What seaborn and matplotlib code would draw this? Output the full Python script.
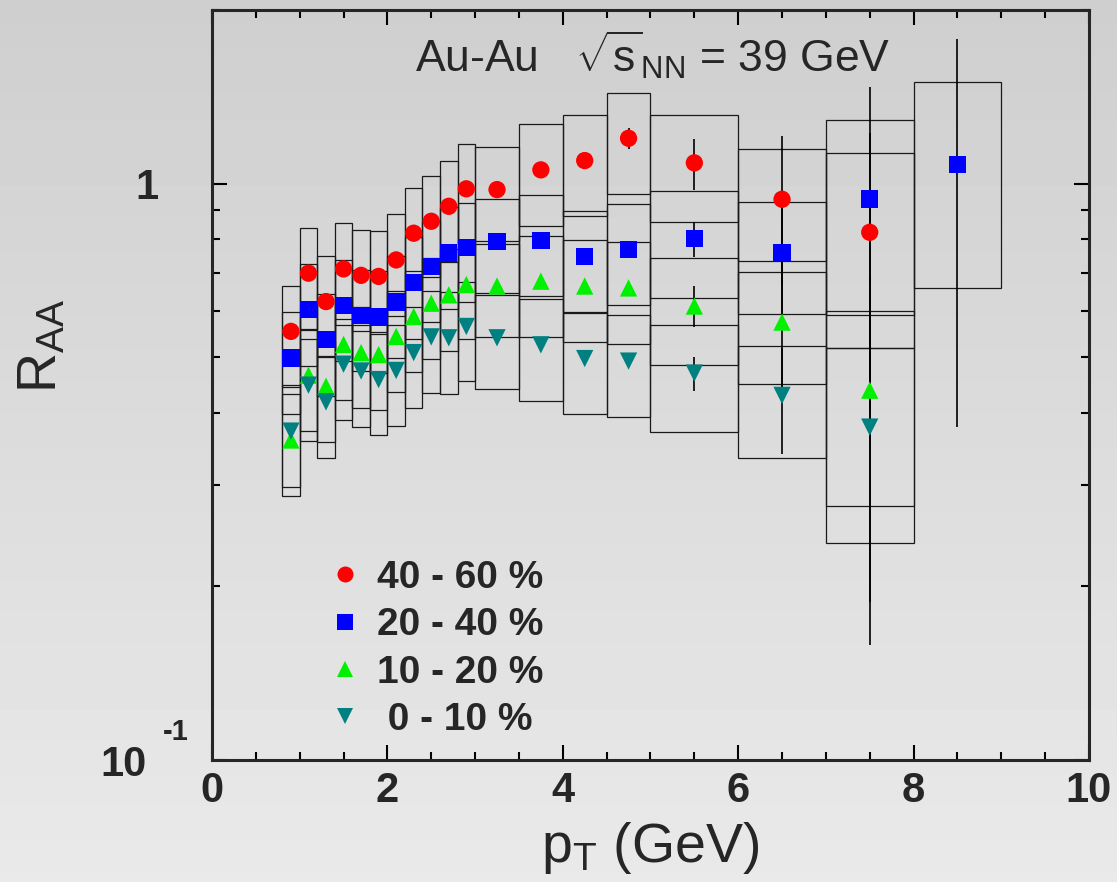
import numpy as np
import pandas as pd
import matplotlib
matplotlib.use("Agg")
import matplotlib.pyplot as plt
import seaborn as sns
from matplotlib.patches import Rectangle
from matplotlib.lines import Line2D
from matplotlib.ticker import FixedLocator, FixedFormatter, MultipleLocator, NullFormatter, FuncFormatter

# ---------------- data ----------------
pt_center = [0.9, 1.1, 1.3, 1.5, 1.7, 1.9, 2.1, 2.3, 2.5, 2.7, 2.9,
             3.25, 3.75, 4.25, 4.75, 5.5, 6.5, 7.5, 8.5]
pt_halfwidth = [0.1, 0.1, 0.1, 0.1, 0.1, 0.1, 0.1, 0.1, 0.1, 0.1, 0.1,
                0.25, 0.25, 0.25, 0.25, 0.5, 0.5, 0.5, 0.5]
# relative systematic uncertainty per pT bin
sys_rel = [0.20, 0.20, 0.20, 0.20, 0.20, 0.20, 0.20, 0.20, 0.20, 0.20, 0.195,
           0.185, 0.20, 0.20, 0.20, 0.21, 0.22, 0.37, 0.39]

labels = ["40 - 60 %", "20 - 40 %", "10 - 20 %", " 0 - 10 %"]

raa_40_60 = [0.554, 0.699, 0.624, 0.711, 0.693, 0.690, 0.737, 0.820, 0.860, 0.913, 0.979,
             0.976, 1.056, 1.096, 1.198, 1.086, 0.939, 0.823]
raa_20_40 = [0.498, 0.604, 0.536, 0.615, 0.590, 0.587, 0.623, 0.673, 0.718, 0.758, 0.774,
             0.793, 0.797, 0.748, 0.768, 0.802, 0.760, 0.940, 1.078]
raa_10_20 = [0.359, 0.465, 0.445, 0.526, 0.509, 0.505, 0.543, 0.588, 0.620, 0.641, 0.668,
             0.664, 0.677, 0.664, 0.659, 0.613, 0.575, 0.438]
raa_0_10 = [0.372, 0.447, 0.418, 0.486, 0.473, 0.457, 0.474, 0.509, 0.542, 0.540, 0.565,
            0.540, 0.525, 0.497, 0.492, 0.469, 0.429, 0.378]

stat_40_60 = [0, 0, 0, 0, 0, 0, 0, 0, 0, 0, 0, 0, 0, 0, 0.05, 0.11, 0.27, 0.40]
stat_20_40 = [0, 0, 0, 0, 0, 0, 0, 0, 0, 0, 0, 0, 0, 0, 0, 0.055, 0.20, 0.53, 0.70]
stat_10_20 = [0, 0, 0, 0, 0, 0, 0, 0, 0, 0, 0, 0, 0, 0, 0, 0.05, 0.15, 0.25]
stat_0_10 = [0, 0, 0, 0, 0, 0, 0, 0, 0, 0, 0, 0, 0, 0, 0, 0.032, 0.09, 0.22]

x_ticks = [0, 2, 4, 6, 8, 10]
y_ticks = [0.1, 1.0]
y_ticklabels = ["10", "1"]
y_exponent = "-1"

colors = ["#ff0000", "#0000ff", "#00f000", "#008080"]
markers = ["o", "s", "^", "v"]
series_vals = [raa_40_60, raa_20_40, raa_10_20, raa_0_10]
series_stat = [stat_40_60, stat_20_40, stat_10_20, stat_0_10]

# ---------------- style ----------------
sns.set_style("ticks")
plt.rcParams["font.family"] = ["Liberation Sans", "DejaVu Sans"]
plt.rcParams["font.weight"] = "normal"
plt.rcParams["mathtext.fontset"] = "custom"
plt.rcParams["mathtext.rm"] = "Liberation Sans"
plt.rcParams["mathtext.it"] = "Liberation Sans:italic"
plt.rcParams["mathtext.bf"] = "Liberation Sans:bold"
plt.rcParams["axes.linewidth"] = 2.2

fig = plt.figure(figsize=(11.17, 8.82), dpi=100)

# gradient background
bg = fig.add_axes([0, 0, 1, 1], zorder=-10)
grad = np.linspace(0.81, 0.915, 256).reshape(-1, 1)
bg.imshow(grad, aspect="auto", cmap="gray", vmin=0, vmax=1, extent=[0, 1, 0, 1], origin="upper")
bg.set_axis_off()

ax = fig.add_axes([0.1898, 0.1383, 0.7851, 0.8504])
ax.set_facecolor("none")
ax.set_yscale("log")

# long-form frame
rows = []
for lab, vals in zip(labels, series_vals):
    for x, y in zip(pt_center, vals):
        rows.append({"pt": x, "raa": y, "cent": lab})
df = pd.DataFrame(rows)

# systematic boxes
for vals in series_vals:
    for i, y in enumerate(vals):
        s = sys_rel[i] * y
        ax.add_patch(Rectangle((pt_center[i] - pt_halfwidth[i], y - s),
                               2 * pt_halfwidth[i], 2 * s,
                               fill=False, edgecolor="#1a1a1a", linewidth=0.9, zorder=2))

# statistical errors
for vals, st in zip(series_vals, series_stat):
    xs = [pt_center[i] for i in range(len(vals)) if st[i] > 0]
    ys = [vals[i] for i in range(len(vals)) if st[i] > 0]
    es = [st[i] for i in range(len(vals)) if st[i] > 0]
    ax.errorbar(xs, ys, yerr=es, fmt="none", ecolor="black", elinewidth=1.2, capsize=0, zorder=3)

sns.scatterplot(data=df, x="pt", y="raa", hue="cent", style="cent",
                hue_order=labels, style_order=labels,
                palette=dict(zip(labels, colors)), markers=dict(zip(labels, markers)),
                s=155, edgecolor="none", linewidth=0, legend=False, ax=ax, zorder=5)

ax.set_xlim(0, 10)
ax.set_ylim(0.1, 2.0)

ax.xaxis.set_major_locator(FixedLocator(x_ticks))
ax.xaxis.set_major_formatter(FuncFormatter(lambda v, p: "%d" % round(v)))
ax.xaxis.set_minor_locator(MultipleLocator(0.5))
ax.yaxis.set_major_locator(FixedLocator(y_ticks))
ax.yaxis.set_major_formatter(FixedFormatter(y_ticklabels))
ax.yaxis.set_minor_locator(FixedLocator([0.2, 0.3, 0.4, 0.5, 0.6, 0.7, 0.8, 0.9, 2.0]))
ax.yaxis.set_minor_formatter(NullFormatter())

ax.tick_params(which="both", direction="in", top=True, right=True, width=1.5, color="black")
ax.tick_params(which="major", length=11)
ax.tick_params(which="minor", length=5.5)
ax.tick_params(axis="x", labelsize=30, pad=8)
ax.tick_params(axis="y", labelsize=30, pad=47)
yt = ax.yaxis.get_major_ticks()
for t in yt:
    t.label1.set_fontweight("bold")
yt[0].label1.set_horizontalalignment("right")
yt[1].label1.set_horizontalalignment("center")
for t in ax.xaxis.get_major_ticks():
    t.label1.set_fontweight("bold")

# exponent of the 10^-1 label (ROOT style, raised)
ax.text(-0.0559, 0.0267, y_exponent, transform=ax.transAxes, fontsize=21,
        fontweight="bold", ha="left", va="baseline")

ax.set_xlabel(r"p$_{\mathrm{T}}$ (GeV)", fontsize=40, fontweight="normal")
ax.xaxis.set_label_coords(0.5, -0.08)
ax.set_ylabel(r"R$_{\mathrm{AA}}$", fontsize=40, fontweight="normal")
ax.yaxis.set_label_coords(-0.164, 0.552)

ax.text(0.2315, 0.917, r"Au-Au   $\sqrt{\mathrm{s}}_{\mathrm{NN}}$ = 39 GeV",
        transform=ax.transAxes, fontsize=32, fontweight="normal", va="baseline", ha="left")

handles = [Line2D([], [], linestyle="none", marker=m, color=c, markersize=11.5, markeredgewidth=0)
           for m, c in zip(markers, colors)]
ax.legend(handles, labels, loc="upper left",
          bbox_to_anchor=((329.5 - 212) / 877, (760 - 560) / 750),
          frameon=False, prop={"size": 28, "weight": "bold"},
          handlelength=0.8, handletextpad=0.42, borderpad=0, borderaxespad=0,
          labelspacing=0.29)

for sp in ax.spines.values():
    sp.set_linewidth(2.2)

fig.savefig("out.png", dpi=100)
